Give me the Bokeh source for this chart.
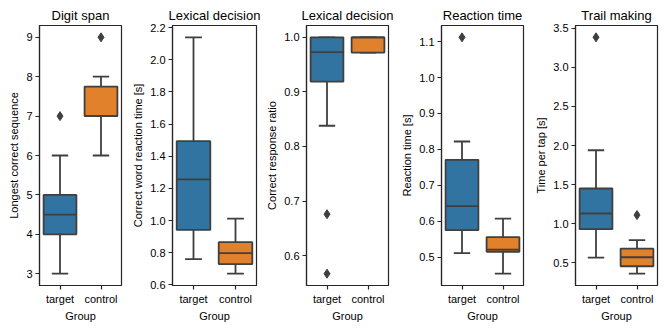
from bokeh.plotting import figure
from bokeh.layouts import row
from bokeh.models import Range1d, FixedTicker, PrintfTickFormatter
from bokeh.embed import file_html
from bokeh.resources import INLINE

groups = ["target", "control"]
box_colors = ["#3274a1", "#e1812c"]

titles = ["Digit span", "Lexical decision", "Lexical decision", "Reaction time", "Trail making"]
ylabels = ["Longest correct sequence", "Correct word reaction time [s]",
           "Correct response ratio", "Reaction time [s]", "Time per tap [s]"]

# Digit span
digit_low = [3.0, 6.0]
digit_q1 = [4.0, 7.0]
digit_median = [4.5, 7.0]
digit_q3 = [5.0, 7.75]
digit_high = [6.0, 8.0]
digit_out_group = ["target", "control"]
digit_out_value = [7.0, 9.0]
digit_ticks = [3, 4, 5, 6, 7, 8, 9]

# Lexical decision: reaction time
lexrt_low = [0.76, 0.67]
lexrt_q1 = [0.942, 0.73]
lexrt_median = [1.256, 0.798]
lexrt_q3 = [1.494, 0.866]
lexrt_high = [2.14, 1.012]
lexrt_out_group = []
lexrt_out_value = []
lexrt_ticks = [0.6, 0.8, 1.0, 1.2, 1.4, 1.6, 1.8, 2.0, 2.2]

# Lexical decision: correct ratio
lexcr_low = [0.838, 0.972]
lexcr_q1 = [0.919, 0.972]
lexcr_median = [0.973, 1.0]
lexcr_q3 = [1.0, 1.0]
lexcr_high = [1.0, 1.0]
lexcr_out_group = ["target", "target"]
lexcr_out_value = [0.676, 0.567]
lexcr_ticks = [0.6, 0.7, 0.8, 0.9, 1.0]

# Reaction time
react_low = [0.511, 0.454]
react_q1 = [0.575, 0.515]
react_median = [0.642, 0.521]
react_q3 = [0.771, 0.556]
react_high = [0.822, 0.607]
react_out_group = ["target"]
react_out_value = [1.112]
react_ticks = [0.5, 0.6, 0.7, 0.8, 0.9, 1.0, 1.1]

# Trail making
trail_low = [0.565, 0.36]
trail_q1 = [0.93, 0.455]
trail_median = [1.13, 0.57]
trail_q3 = [1.45, 0.68]
trail_high = [1.94, 0.79]
trail_out_group = ["target", "control"]
trail_out_value = [3.385, 1.11]
trail_ticks = [0.5, 1.0, 1.5, 2.0, 2.5, 3.0, 3.5]

GRAY = "#3f3f3f"
INK = "#262626"
FONT = "Liberation Sans"
FRAME_H = 260


def panel(title, ylabel, low, q1, med, q3, high, out_g, out_v, ticks, fmt,
          width, left_border, right_border):
    vals = low + high + out_v
    mn, mx = min(vals), max(vals)
    pad = 0.05 * (mx - mn)
    p = figure(width=width, height=329, output_backend="svg", toolbar_location=None,
               x_range=Range1d(-0.5, len(groups) - 0.5),
               y_range=Range1d(mn - pad, mx + pad),
               min_border_left=left_border, min_border_right=right_border,
               min_border_top=25, min_border_bottom=329 - 25 - FRAME_H,
               title=title)
    xs = list(range(len(groups)))
    # whiskers
    p.segment(x0=xs, y0=q1, x1=xs, y1=low, line_color=GRAY, line_width=1.8)
    p.segment(x0=xs, y0=q3, x1=xs, y1=high, line_color=GRAY, line_width=1.8)
    p.segment(x0=[x - 0.2 for x in xs], y0=low, x1=[x + 0.2 for x in xs], y1=low,
              line_color=GRAY, line_width=1.8)
    p.segment(x0=[x - 0.2 for x in xs], y0=high, x1=[x + 0.2 for x in xs], y1=high,
              line_color=GRAY, line_width=1.8)
    # boxes
    p.vbar(x=xs, bottom=q1, top=q3, width=0.8, fill_color=box_colors,
           line_color=GRAY, line_width=1.8)
    # medians
    p.segment(x0=[x - 0.4 for x in xs], y0=med, x1=[x + 0.4 for x in xs], y1=med,
              line_color=GRAY, line_width=1.8)
    # outliers
    if out_v:
        p.scatter(x=[groups.index(g) for g in out_g], y=out_v, marker="diamond",
                  size=9, fill_color=GRAY, line_color=GRAY)

    p.title.align = "center"
    p.title.text_font = FONT
    p.title.text_font_size = "13px"
    p.title.text_font_style = "normal"
    p.title.text_color = "black"
    p.title.standoff = 5

    p.xgrid.visible = False
    p.ygrid.visible = False
    p.outline_line_color = INK
    p.outline_line_width = 1.2
    p.outline_line_alpha = 1.0

    p.xaxis.ticker = FixedTicker(ticks=xs)
    p.xaxis.major_label_overrides = {i: g for i, g in enumerate(groups)}
    p.xaxis.axis_label = "Group"
    p.yaxis.ticker = FixedTicker(ticks=ticks)
    p.yaxis.formatter = PrintfTickFormatter(format=fmt)
    p.yaxis.axis_label = ylabel
    for ax in (p.xaxis[0], p.yaxis[0]):
        ax.axis_line_color = INK
        ax.axis_line_width = 1.2
        ax.major_tick_line_color = INK
        ax.major_tick_line_width = 1.2
        ax.major_tick_in = 0
        ax.major_tick_out = 4
        ax.minor_tick_line_color = None
        ax.major_label_text_font = FONT
        ax.major_label_text_font_size = "11px"
        ax.major_label_text_color = "black"
        ax.axis_label_text_font = FONT
        ax.axis_label_text_font_size = "11px"
        ax.axis_label_text_font_style = "normal"
        ax.axis_label_text_color = "black"
        ax.major_label_standoff = 3
        ax.axis_label_standoff = 2
    p.yaxis.axis_label_standoff = 3
    return p


p1 = panel(titles[0], ylabels[0], digit_low, digit_q1, digit_median, digit_q3, digit_high,
           digit_out_group, digit_out_value, digit_ticks, "%d", 124, 39, 3)
p2 = panel(titles[1], ylabels[1], lexrt_low, lexrt_q1, lexrt_median, lexrt_q3, lexrt_high,
           lexrt_out_group, lexrt_out_value, lexrt_ticks, "%.1f", 137, 48, 5)
p3 = panel(titles[2], ylabels[2], lexcr_low, lexcr_q1, lexcr_median, lexcr_q3, lexcr_high,
           lexcr_out_group, lexcr_out_value, lexcr_ticks, "%.1f", 132, 45, 5)
p4 = panel(titles[3], ylabels[3], react_low, react_q1, react_median, react_q3, react_high,
           react_out_group, react_out_value, react_ticks, "%.1f", 133, 48, 3)
p5 = panel(titles[4], ylabels[4], trail_low, trail_q1, trail_median, trail_q3, trail_high,
           trail_out_group, trail_out_value, trail_ticks, "%.1f", 139, 49, 8)

layout = row(p1, p2, p3, p4, p5)
open("out.html", "w").write(file_html(layout, INLINE))
